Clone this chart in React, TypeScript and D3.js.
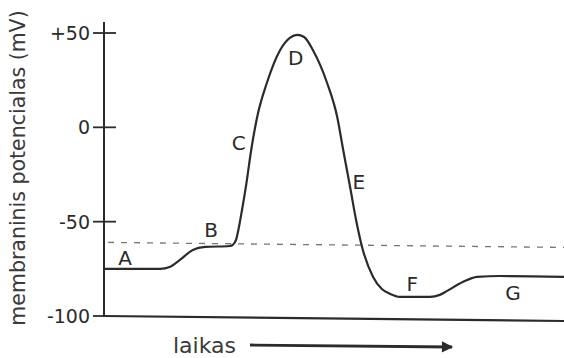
import React from "react";
import * as d3 from "d3";

// Action potential trace: time (arbitrary units) and membrane potential (mV)
const timeValues = [0, 12.2, 14.3, 16.5, 19.3, 22, 27.4, 28, 28.7, 29.3, 30, 30.9, 32, 33.3, 35.4, 38.3, 40.4, 42, 43.5, 45.4, 48.5, 50.7, 52, 53.5, 54.8, 56.1, 58.5, 60.4, 62.2, 64.3, 70.9, 73, 74.6, 78, 81.1, 86.1, 100];
const potentialValues = [-75, -75, -74, -70.3, -65, -63.4, -62.9, -62.3, -59.7, -53.3, -43.8, -30.6, -12, 5.5, 23.5, 41, 47.4, 49, 47.9, 41, 23.5, 5.5, -12, -31.6, -49.1, -63.4, -79.3, -85.7, -88.3, -89.9, -89.9, -88.8, -86.7, -82, -79.3, -78.8, -79.3];

const thresholdValue = -61;

const tickValues = [50, 0, -50, -100];
const tickLabels = ["+50", "0", "-50", "-100"];

// Phase letters placed along the curve (time, potential)
const phaseLetters = ["A", "B", "C", "D", "E", "F", "G"];
const phaseTimes = [4.6, 23.3, 29.3, 41.7, 55.4, 67, 88.9];
const phasePotentials = [-69.2, -54.4, -8.3, 36.8, -29, -83, -87.8];

const yLabel = "membraninis potencialas (mV)";
const xLabel = "laikas";

const W = 564;
const H = 358;
const FONT = "'DejaVu Sans', sans-serif";
const INK = "#2b2b2b";

export default function App() {
  const x = d3.scaleLinear().domain([0, 100]).range([104, 564]);
  const y = d3.scaleLinear().domain([-100, 50]).range([316, 33]);

  const pts: [number, number][] = timeValues.map((t, i) => [t, potentialValues[i]]);
  const line = d3
    .line<[number, number]>()
    .x((d) => x(d[0]))
    .y((d) => y(d[1]))
    .curve(d3.curveMonotoneX);

  const axisX = x(0);

  return (
    <svg
      width={W}
      height={H}
      viewBox={`0 0 ${W} ${H}`}
      style={{ position: "absolute", left: 0, top: 0, background: "#fff" }}
    >
      <defs>
        <marker id="arrow" viewBox="0 0 10 10" refX="9" refY="5" markerWidth="5" markerHeight="4" orient="auto" markerUnits="strokeWidth">
          <path d="M0,0 L10,5 L0,10 z" fill={INK} />
        </marker>
      </defs>

      {/* y axis */}
      <line x1={axisX} x2={axisX} y1={y(50) - 11} y2={y(-100) + 1} stroke={INK} strokeWidth={2} />
      {tickValues.map((v, i) => (
        <g key={v}>
          <line
            x1={axisX - 11}
            x2={v === -100 ? axisX : axisX + 12}
            y1={y(v)}
            y2={y(v)}
            stroke={INK}
            strokeWidth={1.8}
          />
          <text
            x={axisX - 14}
            y={y(v)}
            textAnchor="end"
            dominantBaseline="central"
            fontFamily={FONT}
            fontSize={19}
            fill={INK}
          >
            {tickLabels[i]}
          </text>
        </g>
      ))}

      {/* time axis */}
      <line x1={axisX} x2={W} y1={y(-100)} y2={y(-100) + 5} stroke={INK} strokeWidth={2.2} />

      {/* threshold */}
      <line
        x1={axisX + 4}
        x2={W}
        y1={y(thresholdValue)}
        y2={y(thresholdValue) + 5}
        stroke="#777"
        strokeWidth={1.3}
        strokeDasharray="6,7"
      />

      {/* action potential curve */}
      <path d={line(pts) ?? ""} fill="none" stroke={INK} strokeWidth={2.2} />

      {phaseLetters.map((l, i) => (
        <text
          key={l}
          x={x(phaseTimes[i])}
          y={y(phasePotentials[i])}
          textAnchor="middle"
          dominantBaseline="central"
          fontFamily={FONT}
          fontSize={20}
          fill={INK}
        >
          {l}
        </text>
      ))}

      {/* axis titles */}
      <text
        transform={`translate(18, 168) rotate(-90)`}
        textAnchor="middle"
        dominantBaseline="central"
        fontFamily={FONT}
        fontSize={20.5}
        fill="#3a3a3a"
      >
        {yLabel}
      </text>
      <text x={173} y={345} dominantBaseline="central" fontFamily={FONT} fontSize={22} fill="#3a3a3a">
        {xLabel}
      </text>
      <line x1={250} x2={452} y1={345} y2={347} stroke={INK} strokeWidth={2.8} markerEnd="url(#arrow)" />
    </svg>
  );
}
